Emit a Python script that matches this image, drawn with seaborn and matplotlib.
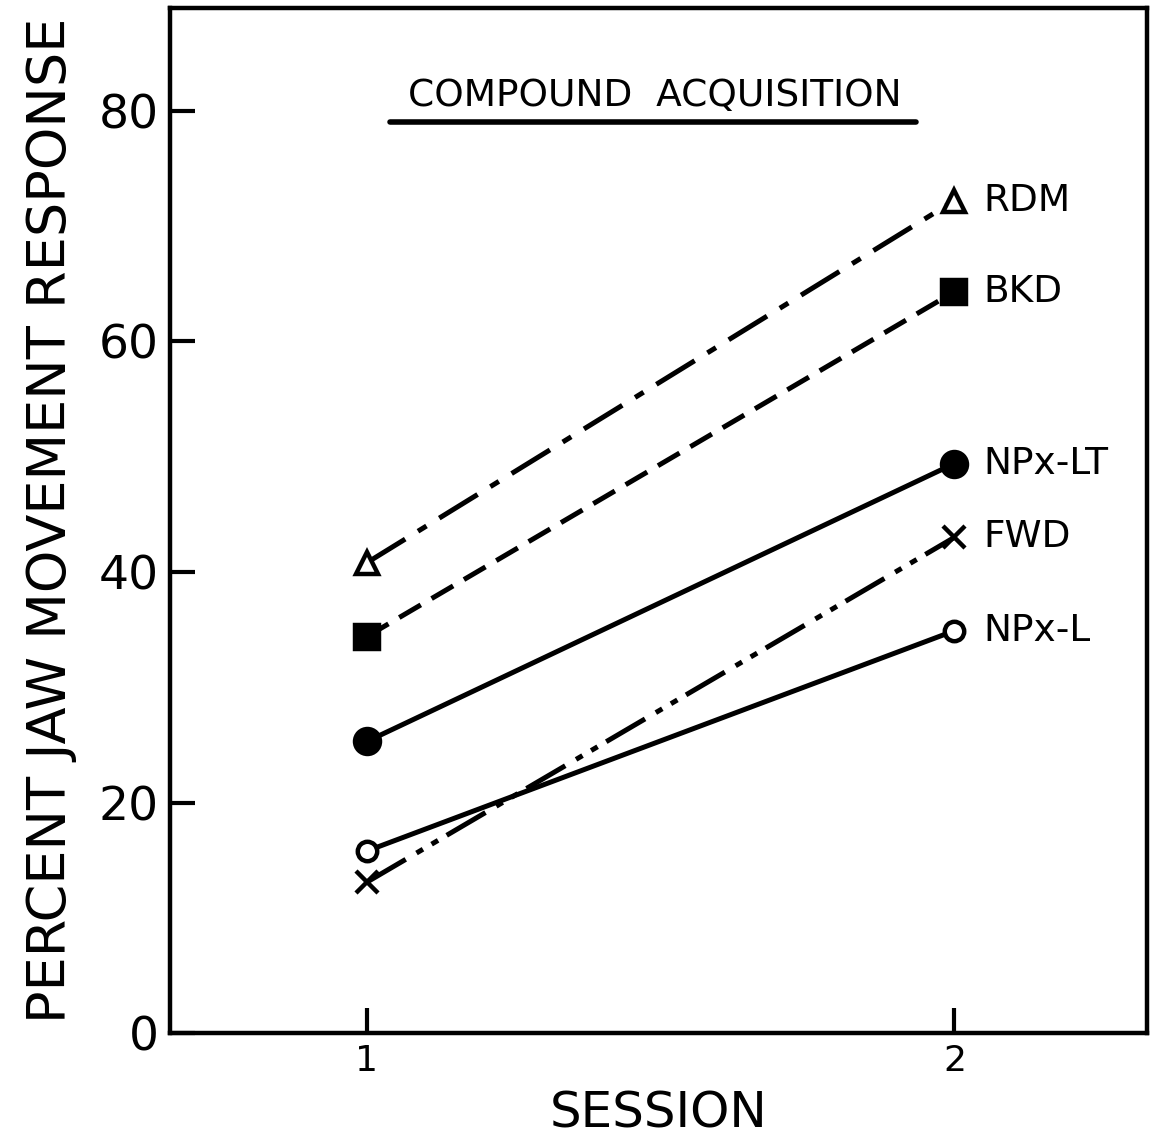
import matplotlib
matplotlib.use('Agg')
import matplotlib.pyplot as plt
import seaborn as sns
import pandas as pd

sessions = [1, 2]
groups = ['RDM', 'BKD', 'NPx-LT', 'FWD', 'NPx-L']
rdm = [40.8, 72.2]
bkd = [34.4, 64.3]
npx_lt = [25.3, 49.4]
fwd = [13.1, 43.0]
npx_l = [15.8, 34.9]
yticks = [0, 20, 40, 60, 80]

values = {'RDM': rdm, 'BKD': bkd, 'NPx-LT': npx_lt, 'FWD': fwd, 'NPx-L': npx_l}
rows = []
for g in groups:
    for s, v in zip(sessions, values[g]):
        rows.append({'session': s, 'pct': v, 'group': g})
df = pd.DataFrame(rows)

# line style, marker, marker face, marker size per group
styles = {
    'RDM': ((0, (9, 3, 2, 3)), '^', 'white', 16),
    'BKD': ((0, (5, 2.5)), 's', 'black', 17),
    'NPx-LT': ('-', 'o', 'black', 18),
    'FWD': ((0, (9, 2.5, 1.5, 2, 1.5, 2)), 'x', 'black', 16),
    'NPx-L': ('-', 'o', 'white', 14),
}

sns.set_style('ticks')
plt.rcParams['font.family'] = ['DejaVu Sans']
plt.rcParams['text.color'] = 'black'
plt.rcParams['xtick.color'] = 'black'
plt.rcParams['ytick.color'] = 'black'
plt.rcParams['axes.labelcolor'] = 'black'
plt.rcParams['axes.edgecolor'] = 'black'

fig = plt.figure(figsize=(11.57, 11.48), dpi=100)
ax = fig.add_axes([0.147, 0.100, 0.844, 0.893])

for g in groups:
    ls, mk, fc, ms = styles[g]
    sub = df[df['group'] == g]
    sns.lineplot(data=sub, x='session', y='pct', ax=ax, color='black',
                 linewidth=3.6, linestyle=ls, marker=mk, markersize=ms,
                 markerfacecolor=fc, markeredgecolor='black', markeredgewidth=3.2)
    last = sub['pct'].iloc[-1]
    ax.text(2.05, last, g, fontsize=27, va='center', ha='left')

ax.set_xlim(0.665, 2.327)
ax.set_ylim(0, 88.9)
ax.set_xticks(sessions)
ax.set_xticklabels(['1', '2'], fontsize=26)
ax.set_yticks(yticks)
ax.set_yticklabels([str(t) for t in yticks], fontsize=34)
ax.tick_params(direction='in', length=18, width=3, pad=8)
for sp in ax.spines.values():
    sp.set_linewidth(3.2)
    sp.set_visible(True)

ax.set_xlabel('SESSION', fontsize=36, labelpad=8)
ax.set_ylabel('PERCENT JAW MOVEMENT RESPONSE', fontsize=39, labelpad=16)

ax.text(1.49, 81.3, 'COMPOUND  ACQUISITION', fontsize=27, ha='center', va='center')
ax.plot([1.04, 1.935], [79.0, 79.0], color='black', linewidth=4)

fig.savefig('out.png', dpi=100)
